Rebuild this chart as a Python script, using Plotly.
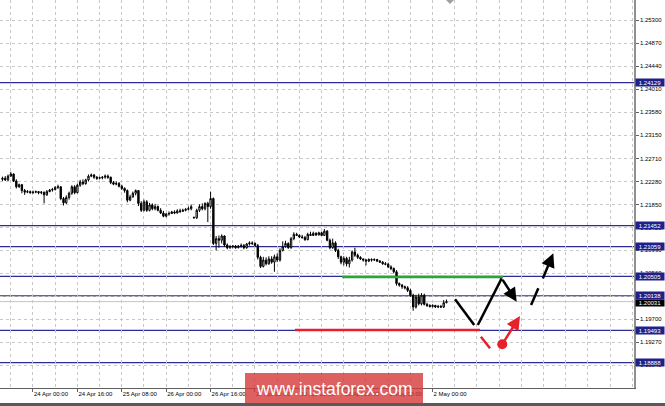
import plotly.graph_objects as go

# ---------------- data ----------------
bar_index = list(range(-11, 150))  # hourly bars, 0 = 24 Apr 00:00

open_ = [1.2232, 1.2234, 1.2231, 1.2238, 1.2242, 1.2229, 1.2218, 1.2222, 1.2211, 1.2208, 1.2209,
         1.2207, 1.2208, 1.2209, 1.2207, 1.2208, 1.2203, 1.2209, 1.2212, 1.2213, 1.2217,
         1.2218, 1.2196, 1.2188, 1.2198, 1.2206, 1.2218, 1.2207, 1.2221, 1.2227, 1.2224,
         1.2231, 1.2238, 1.2240, 1.2236, 1.2234, 1.2235, 1.2236, 1.2238, 1.2236, 1.2226,
         1.2223, 1.2224, 1.2219, 1.2215, 1.2211, 1.2193, 1.2199, 1.2206, 1.2211, 1.2187,
         1.2174, 1.2190, 1.2174, 1.2184, 1.2177, 1.2181, 1.2174, 1.2169, 1.2163, 1.2167,
         1.2168, 1.2171, 1.2169, 1.2173, 1.2172, 1.2174, 1.2176, 1.2177, 1.2161, 1.2160,
         1.2174, 1.2181, 1.2177, 1.2187, 1.2181, 1.2196, 1.2112, 1.2121, 1.2118, 1.2126,
         1.2109, 1.2104, 1.2106, 1.2107, 1.2104, 1.2107, 1.2108, 1.2104, 1.2111, 1.2113,
         1.2112, 1.2108, 1.2086, 1.2069, 1.2081, 1.2074, 1.2083, 1.2077, 1.2087, 1.2081,
         1.2099, 1.2106, 1.2112, 1.2104, 1.2121, 1.2129, 1.2127, 1.2124, 1.2123, 1.2119,
         1.2129, 1.2127, 1.2131, 1.2128, 1.2132, 1.2127, 1.2135, 1.2118, 1.2104, 1.2113,
         1.2099, 1.2087, 1.2077, 1.2084, 1.2074, 1.2081, 1.2096, 1.2090, 1.2086, 1.2083,
         1.2081, 1.2079, 1.2082, 1.2081, 1.2082, 1.2079, 1.2077, 1.2074, 1.2073, 1.2068,
         1.2065, 1.2059, 1.2037, 1.2034, 1.2031, 1.2029, 1.2024, 1.2015, 1.1993, 1.2012,
         1.1999, 1.2015, 1.1998, 1.1996, 1.1994, 1.1996, 1.1993, 1.1994, 1.1993, 1.2001]

high = [1.2237, 1.2238, 1.2241, 1.2246, 1.2243, 1.2232, 1.2224, 1.2223, 1.2214, 1.2212, 1.2211,
        1.2211, 1.2211, 1.2210, 1.2210, 1.2209, 1.2212, 1.2214, 1.2216, 1.2219, 1.2222,
        1.2219, 1.2199, 1.2202, 1.2209, 1.2221, 1.2221, 1.2224, 1.2231, 1.2232, 1.2233,
        1.2241, 1.2243, 1.2242, 1.2238, 1.2237, 1.2238, 1.2241, 1.2241, 1.2237, 1.2229,
        1.2228, 1.2227, 1.2222, 1.2217, 1.2213, 1.2203, 1.2209, 1.2213, 1.2212, 1.2191,
        1.2194, 1.2193, 1.2188, 1.2187, 1.2186, 1.2183, 1.2178, 1.2173, 1.2169, 1.2172,
        1.2173, 1.2174, 1.2176, 1.2177, 1.2177, 1.2178, 1.2181, 1.2185, 1.2162, 1.2177,
        1.2185, 1.2187, 1.2189, 1.2190, 1.2209, 1.2198, 1.2126, 1.2127, 1.2129, 1.2127,
        1.2112, 1.2109, 1.2109, 1.2109, 1.2109, 1.2112, 1.2111, 1.2113, 1.2116, 1.2116,
        1.2114, 1.2111, 1.2089, 1.2087, 1.2086, 1.2088, 1.2088, 1.2091, 1.2093, 1.2103,
        1.2116, 1.2117, 1.2114, 1.2124, 1.2133, 1.2132, 1.2129, 1.2128, 1.2126, 1.2132,
        1.2134, 1.2134, 1.2133, 1.2134, 1.2134, 1.2139, 1.2137, 1.2121, 1.2121, 1.2116,
        1.2102, 1.2089, 1.2088, 1.2087, 1.2087, 1.2099, 1.2104, 1.2093, 1.2088, 1.2084,
        1.2083, 1.2084, 1.2084, 1.2084, 1.2083, 1.2081, 1.2079, 1.2077, 1.2076, 1.2071,
        1.2067, 1.2062, 1.2039, 1.2036, 1.2033, 1.2032, 1.2027, 1.2018, 1.2016, 1.2018,
        1.2019, 1.2018, 1.2001, 1.1998, 1.1998, 1.1997, 1.1997, 1.1997, 1.2006, 1.2007]

low = [1.2229, 1.2229, 1.2229, 1.2237, 1.2227, 1.2215, 1.2216, 1.2206, 1.2203, 1.2206, 1.2205,
       1.2205, 1.2206, 1.2204, 1.2204, 1.2187, 1.2201, 1.2208, 1.2209, 1.2211, 1.2214,
       1.2193, 1.2183, 1.2186, 1.2194, 1.2203, 1.2204, 1.2206, 1.2218, 1.2221, 1.2222,
       1.2228, 1.2236, 1.2233, 1.2231, 1.2232, 1.2232, 1.2233, 1.2233, 1.2223, 1.2221,
       1.2221, 1.2217, 1.2212, 1.2207, 1.2189, 1.2191, 1.2198, 1.2202, 1.2182, 1.2171,
       1.2172, 1.2171, 1.2172, 1.2174, 1.2174, 1.2172, 1.2167, 1.2161, 1.2161, 1.2164,
       1.2167, 1.2167, 1.2168, 1.2169, 1.2171, 1.2172, 1.2174, 1.2174, 1.2159, 1.2158,
       1.2171, 1.2174, 1.2174, 1.2152, 1.2177, 1.2109, 1.2099, 1.2104, 1.2112, 1.2106,
       1.2101, 1.2102, 1.2103, 1.2102, 1.2103, 1.2104, 1.2101, 1.2102, 1.2108, 1.2109,
       1.2106, 1.2082, 1.2066, 1.2067, 1.2071, 1.2072, 1.2074, 1.2059, 1.2077, 1.2078,
       1.2097, 1.2104, 1.2102, 1.2102, 1.2118, 1.2126, 1.2122, 1.2121, 1.2117, 1.2118,
       1.2126, 1.2126, 1.2126, 1.2127, 1.2126, 1.2126, 1.2116, 1.2101, 1.2102, 1.2096,
       1.2083, 1.2073, 1.2071, 1.2069, 1.2067, 1.2078, 1.2087, 1.2083, 1.2081, 1.2078,
       1.2071, 1.2077, 1.2078, 1.2079, 1.2077, 1.2076, 1.2072, 1.2071, 1.2066, 1.2062,
       1.2056, 1.2033, 1.2031, 1.2027, 1.2026, 1.2021, 1.2012, 1.1986, 1.1990, 1.1996,
       1.1996, 1.1996, 1.1993, 1.1992, 1.1992, 1.1991, 1.1991, 1.1991, 1.1991, 1.2000]

close = [1.2234, 1.2231, 1.2238, 1.2242, 1.2229, 1.2218, 1.2222, 1.2211, 1.2208, 1.2209, 1.2207,
         1.2208, 1.2209, 1.2207, 1.2208, 1.2203, 1.2209, 1.2212, 1.2213, 1.2217, 1.2218,
         1.2196, 1.2188, 1.2198, 1.2206, 1.2218, 1.2207, 1.2221, 1.2227, 1.2224, 1.2231,
         1.2238, 1.2240, 1.2236, 1.2234, 1.2235, 1.2236, 1.2238, 1.2236, 1.2226, 1.2223,
         1.2224, 1.2219, 1.2215, 1.2211, 1.2193, 1.2199, 1.2206, 1.2211, 1.2187, 1.2174,
         1.2190, 1.2174, 1.2184, 1.2177, 1.2181, 1.2174, 1.2169, 1.2163, 1.2167, 1.2168,
         1.2171, 1.2169, 1.2173, 1.2172, 1.2174, 1.2176, 1.2177, 1.2181, 1.2160, 1.2174,
         1.2181, 1.2177, 1.2187, 1.2181, 1.2196, 1.2112, 1.2121, 1.2118, 1.2126, 1.2109,
         1.2104, 1.2106, 1.2107, 1.2104, 1.2107, 1.2108, 1.2104, 1.2111, 1.2113, 1.2112,
         1.2108, 1.2086, 1.2069, 1.2081, 1.2074, 1.2083, 1.2077, 1.2087, 1.2081, 1.2099,
         1.2106, 1.2112, 1.2104, 1.2121, 1.2129, 1.2127, 1.2124, 1.2123, 1.2119, 1.2129,
         1.2127, 1.2131, 1.2128, 1.2132, 1.2127, 1.2135, 1.2118, 1.2104, 1.2113, 1.2099,
         1.2087, 1.2077, 1.2084, 1.2074, 1.2081, 1.2096, 1.2090, 1.2086, 1.2083, 1.2081,
         1.2079, 1.2082, 1.2081, 1.2082, 1.2079, 1.2077, 1.2074, 1.2073, 1.2068, 1.2065,
         1.2059, 1.2037, 1.2034, 1.2031, 1.2029, 1.2024, 1.2015, 1.1993, 1.2012, 1.1999,
         1.2015, 1.1998, 1.1996, 1.1994, 1.1996, 1.1993, 1.1994, 1.1993, 1.2001, 1.2003]

x_tick_index = [-16, 0, 16, 32, 48, 64, 80, 96, 112, 128, 144]
x_tick_labels = ["23 Apr 08:00", "24 Apr 00:00", "24 Apr 16:00", "25 Apr 08:00",
                 "26 Apr 00:00", "26 Apr 16:00", "27 Apr 08:00", "30 Apr 00:00",
                 "30 Apr 16:00", "1 May 08:00", "2 May 00:00"]

y_ticks = [1.25300, 1.24870, 1.24440, 1.24010, 1.23580, 1.23150, 1.22710, 1.22280,
           1.21850, 1.21420, 1.20990, 1.20560, 1.20130, 1.19700, 1.19270, 1.18840, 1.18410]

levels = [1.24129, 1.21452, 1.21059, 1.20505, 1.20138, 1.19493, 1.18888]
current_price = 1.20031

# forecast drawings (bar index, price)
green_level = {"x": [111.4, 169.4], "y": [1.2049, 1.2049]}
red_level = {"x": [94.4, 161.1], "y": [1.1950, 1.1950]}
black_down = {"x": [152.1, 159.0], "y": [1.20074, 1.19593]}
black_up = {"x": [160.3, 168.9], "y": [1.19593, 1.20467]}
black_tip = {"x": [168.9, 174.3], "y": [1.20467, 1.20029]}
dash1 = {"x": [179.5, 182.1], "y": [1.19967, 1.2028]}
dash2 = {"x": [183.5, 187.5], "y": [1.20436, 1.20935]}
red_dash = {"x": [161.4, 164.7], "y": [1.19374, 1.19157]}
red_arrow = {"x": [169.1, 175.5], "y": [1.19232, 1.19762]}

# ---------------- figure ----------------
W, H = 665, 406
L, R, T, B = 0, 31, 0, 18
PW, PH = W - L - R, H - T - B
FONT = "Liberation Sans"

def px(x):
    return x / PW

def py(y):
    return 1 - y / PH

fig = go.Figure()

fig.add_trace(go.Candlestick(
    x=bar_index, open=open_, high=high, low=low, close=close,
    increasing=dict(line=dict(color="black", width=1), fillcolor="white"),
    decreasing=dict(line=dict(color="black", width=1), fillcolor="black"),
    whiskerwidth=0, showlegend=False, hoverinfo="skip"))

shapes = []
for lv in levels:
    shapes.append(dict(type="line", xref="paper", x0=0, x1=1, yref="y", y0=lv, y1=lv,
                       line=dict(color="#2c2c96", width=1.2), layer="below"))
shapes.append(dict(type="line", xref="paper", x0=0, x1=1, yref="y", y0=current_price, y1=current_price,
                   line=dict(color="#c4c4c4", width=1), layer="below"))

def seg(d, color, width, dash="solid"):
    fig.add_trace(go.Scatter(x=d["x"], y=d["y"], mode="lines",
                             line=dict(color=color, width=width, dash=dash),
                             showlegend=False, hoverinfo="skip"))

seg(green_level, "#2ca53c", 2.5)
seg(red_level, "#e8202a", 2.5)
seg(black_down, "black", 2.5)
seg(black_up, "black", 2.5)
seg(dash1, "black", 2.5)
seg(red_dash, "#e8202a", 2.5)
fig.add_trace(go.Scatter(x=[red_arrow["x"][0]], y=[red_arrow["y"][0]], mode="markers",
                         marker=dict(color="#e8202a", size=10), showlegend=False, hoverinfo="skip"))

annotations = []
for d, col in [(black_tip, "black"), (dash2, "black"), (red_arrow, "#e8202a")]:
    annotations.append(dict(x=d["x"][1], y=d["y"][1], ax=d["x"][0], ay=d["y"][0],
                            xref="x", yref="y", axref="x", ayref="y", text="",
                            showarrow=True, arrowhead=2, arrowsize=1.1, arrowwidth=2.5,
                            arrowcolor=col, standoff=0))

for lv in levels:
    annotations.append(dict(x=1, xref="paper", xanchor="left", xshift=1, y=lv, yref="y",
                            yanchor="middle", text=f"{lv:.5f}", showarrow=False,
                            font=dict(color="white", size=6, family=FONT),
                            bgcolor="#20208a", width=28, height=7, borderpad=0))
annotations.append(dict(x=1, xref="paper", xanchor="left", xshift=1, y=current_price, yref="y",
                        yanchor="middle", yshift=-1, text=f"{current_price:.5f}", showarrow=False,
                        font=dict(color="white", size=6, family=FONT),
                        bgcolor="black", width=28, height=6, borderpad=0))

# watermark
shapes.append(dict(type="rect", xref="paper", yref="paper", x0=px(245), x1=px(423),
                   y0=py(404), y1=py(373), fillcolor="rgba(214,58,58,0.8)",
                   line=dict(width=0), layer="above"))
annotations.append(dict(xref="paper", yref="paper", x=px(334), y=py(389), text="www.instaforex.com",
                        showarrow=False, font=dict(color="white", size=17.5, family=FONT),
                        xanchor="center", yanchor="middle"))
# bottom frame and top shift marker
shapes.append(dict(type="rect", xref="paper", yref="paper", x0=0, x1=px(W), y0=py(406), y1=py(403),
                   fillcolor="#5a5a5a", line=dict(width=0), layer="above"))
shapes.append(dict(type="path", xref="paper", yref="paper",
                   path=f"M {px(446)} {py(0)} L {px(454)} {py(0)} L {px(450)} {py(4)} Z",
                   fillcolor="#a0a0a0", line=dict(width=0), layer="above"))

fig.update_layout(
    width=W, height=H, autosize=False,
    margin=dict(l=L, r=R, t=T, b=B, pad=0),
    paper_bgcolor="white", plot_bgcolor="white",
    font=dict(family=FONT, size=6, color="black"),
    shapes=shapes, annotations=annotations, showlegend=False,
    xaxis=dict(range=[-11.89, 216.58], rangeslider=dict(visible=False),
               tickvals=x_tick_index, ticktext=x_tick_labels, tickangle=0,
               ticklabelposition="outside right", ticks="outside", ticklen=3,
               tickcolor="#606060", tickfont=dict(size=6, family=FONT),
               showgrid=False, zeroline=False, automargin=False,
               showline=True, linecolor="#606060", linewidth=1,
               minor=dict(tick0=0, dtick=8, showgrid=True, gridcolor="#c8c8c8",
                          griddash="3px,3px", gridwidth=1, ticks="")),
    yaxis=dict(range=[1.18414, 1.25677], side="right", tickvals=y_ticks,
               ticktext=[f"{v:.5f}" for v in y_ticks], automargin=False,
               ticks="outside", ticklen=3, tickcolor="#606060", tickfont=dict(size=6, family=FONT),
               showgrid=True, gridcolor="#c8c8c8", griddash="3px,3px", gridwidth=1,
               zeroline=False, showline=True, linecolor="#909090", linewidth=1.5),
)

fig.write_html("out.html", config={"displayModeBar": False},
               post_script="document.body.style.margin='0px';document.body.style.overflow='hidden';")
